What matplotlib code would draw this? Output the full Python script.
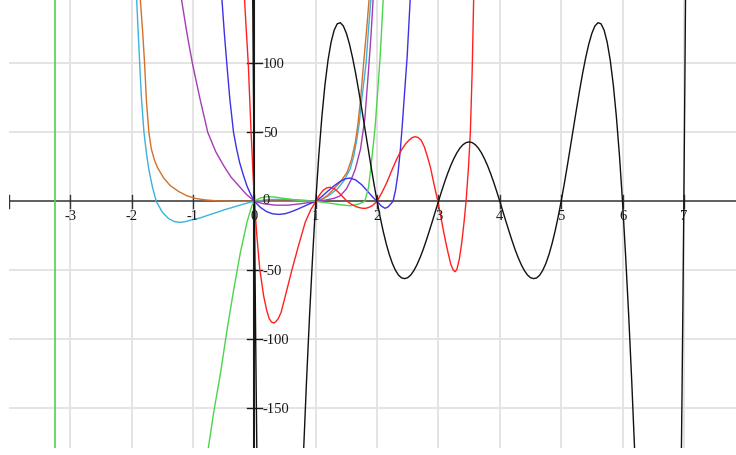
"""Polynomial curves on a Desmos-style grid."""

import matplotlib
matplotlib.use("Agg")
from matplotlib import pyplot as plt

# Points (x, y in graph units)
black_x = [-0.03, -0.02, -0.01, 0.0, 0.01, 0.02, 0.03, 0.04, 0.05, 0.8, 0.85, 0.9,
           0.95, 1.0, 1.05, 1.1, 1.15, 1.2, 1.25, 1.3, 1.35, 1.4, 1.45, 1.5, 1.55,
           1.6, 1.65, 1.7, 1.75, 1.8, 1.85, 1.9, 1.95, 2.0, 2.05, 2.1, 2.15, 2.2,
           2.25, 2.3, 2.35, 2.4, 2.45, 2.5, 2.55, 2.6, 2.65, 2.7, 2.75, 2.8, 2.85,
           2.9, 2.95, 3.0, 3.05, 3.1, 3.15, 3.2, 3.25, 3.3, 3.35, 3.4, 3.45, 3.5,
           3.55, 3.6, 3.65, 3.7, 3.75, 3.8, 3.85, 3.9, 3.95, 4.0, 4.05, 4.1, 4.15,
           4.2, 4.25, 4.3, 4.35, 4.4, 4.45, 4.5, 4.55, 4.6, 4.65, 4.7, 4.75, 4.8,
           4.85, 4.9, 4.95, 5.0, 5.05, 5.1, 5.15, 5.2, 5.25, 5.3, 5.35, 5.4, 5.45,
           5.5, 5.55, 5.6, 5.65, 5.7, 5.75, 5.8, 5.85, 5.9, 5.95, 6.0, 6.05, 6.1,
           6.15, 6.2, 6.95, 6.96, 6.97, 6.98, 6.99, 7.0, 7.01, 7.02, 7.03]
black_y = [163, 106, 52, 0, -49, -96, -140, -181, -221, -183, -130, -82, -39,
           0, 33.4, 61.5, 84.5, 102.4, 115.5, 124.2, 128.8, 129.6, 127.2, 121.8,
           114.0, 104.2, 92.9, 80.3, 66.9, 53.1, 39.3, 25.6, 12.4, 0, -11.5, -21.9,
           -31.0, -38.8, -45.2, -50.1, -53.6, -55.6, -56.1, -55.4, -53.4, -50.2,
           -46.0, -40.9, -35.1, -28.6, -21.7, -14.6, -7.3, 0, 7.1, 13.9, 20.2,
           25.9, 30.9, 35.2, 38.6, 41.1, 42.6, 43.1, 42.6, 41.1, 38.6, 35.2, 30.9,
           25.9, 20.2, 13.9, 7.1, 0, -7.3, -14.6, -21.7, -28.6, -35.1, -40.9,
           -46.0, -50.2, -53.4, -55.4, -56.1, -55.6, -53.6, -50.1, -45.2, -38.8,
           -31.0, -21.9, -11.5, 0, 12.4, 25.6, 39.3, 53.1, 66.9, 80.3, 92.9,
           104.2, 114.0, 121.8, 127.2, 129.6, 128.8, 124.2, 115.5, 102.4, 84.5,
           61.5, 33.4, 0, -39, -82, -130, -183, -221, -181, -140, -96, -49, 0, 52,
           106, 163]

red_x = [-0.19, -0.14, -0.10, -0.054, -0.025, 0.0, 0.04, 0.087, 0.15, 0.2, 0.24,
         0.28, 0.315, 0.35, 0.39, 0.435, 0.505, 0.61, 0.72, 0.83, 0.92, 1.0, 1.06,
         1.12, 1.18, 1.24, 1.30, 1.36, 1.43, 1.51, 1.59, 1.66, 1.72, 1.77, 1.81,
         1.86, 1.92, 2.0, 2.08, 2.16, 2.24, 2.32, 2.40, 2.47, 2.52, 2.57, 2.62,
         2.67, 2.72, 2.77, 2.82, 2.87, 2.92, 2.99, 3.04, 3.08, 3.12, 3.16, 3.20,
         3.24, 3.27, 3.30, 3.34, 3.38, 3.42, 3.45, 3.49, 3.52, 3.55, 3.58]
red_y = [170, 130, 100, 50, 23, 0, -25, -49, -68.5, -79, -85, -87.6, -88.3, -87.3,
         -85, -80.6, -68.5, -50, -32, -15, -6, 0, 4.5, 8, 9.8, 10.2, 9.2, 7, 3.8,
         0, -2.4, -3.9, -4.7, -5.1, -5.1, -4.5, -3.2, 0, 6.5, 13.8, 22.5, 30.7,
         37.5, 42, 44.3, 46.2, 46.9, 46.3, 44.2, 39.5, 32.5, 24.5, 14, 0, -11.5,
         -21, -30, -38, -45.5, -49.8, -51.1, -49.5, -42, -30, -14, 0, 25, 50, 95,
         160]

blue_x = [-0.56, -0.53, -0.49, -0.45, -0.40, -0.34, -0.29, -0.24, -0.18, -0.12,
          -0.06, 0.0, 0.1, 0.2, 0.3, 0.4, 0.5, 0.6, 0.7, 0.8, 0.9, 1.0, 1.1, 1.2,
          1.3, 1.4, 1.48, 1.56, 1.65, 1.75, 1.85, 1.93, 2.0, 2.07, 2.13, 2.18,
          2.22, 2.26, 2.30, 2.34, 2.38, 2.41, 2.44, 2.49, 2.54, 2.56]
blue_y = [170, 147, 122, 100, 74, 50, 38, 28, 19, 11, 5, 0, -4.5, -7.5, -9.1,
          -9.5, -9.0, -7.6, -5.8, -3.8, -1.8, 0, 3.5, 7.5, 11.3, 14.5, 16.3, 16.9,
          15.5, 12, 7, 3, 0, -3.5, -5.1, -4, -2, 0, 8, 20, 38, 55, 74, 105, 147,
          165]

purple_x = [-1.25, -1.19, -1.10, -1.01, -0.89, -0.76, -0.63, -0.5, -0.38, -0.256,
            -0.13, 0.0, 0.15, 0.35, 0.55, 0.75, 0.9, 1.0, 1.15, 1.3, 1.4, 1.5,
            1.58, 1.645, 1.73, 1.80, 1.86, 1.90, 1.94, 1.96]
purple_y = [175, 147, 122, 100, 75, 50, 36, 25.8, 17.5, 11.3, 5, 0, -1.8, -2.8,
            -2.8, -1.8, -0.8, 0, 0.8, 2.2, 4, 9, 16, 23.4, 38, 60, 95, 120, 150,
            170]

orange_x = [-1.90, -1.86, -1.82, -1.79, -1.76, -1.72, -1.68, -1.63, -1.58, -1.48,
            -1.37, -1.23, -1.10, -0.95, -0.8, -0.6, -0.3, 0.0, 0.5, 1.0, 1.1, 1.2,
            1.29, 1.4, 1.51, 1.58, 1.645, 1.69, 1.73, 1.78, 1.83, 1.87, 1.89]
orange_y = [175, 147, 122, 100, 73, 50, 38, 30, 24.5, 17, 11.3, 7, 4, 2, 1, 0.3,
            0.05, 0, 0, 0, 1.5, 4.5, 8.9, 14, 21, 30, 42.8, 57, 74, 100, 125, 147,
            165]

cyan_x = [-1.95, -1.92, -1.87, -1.84, -1.80, -1.76, -1.72, -1.66, -1.6, -1.5,
          -1.4, -1.3, -1.2, -1.1, -1.0, -0.88, -0.75, -0.61, -0.48, -0.34, -0.2,
          -0.08, 0.0, 0.2, 0.5, 0.8, 1.0, 1.1, 1.2, 1.35, 1.46, 1.56, 1.62, 1.67,
          1.71, 1.75, 1.82, 1.86, 1.90, 1.92]
cyan_y = [170, 147, 100, 74, 50, 35, 23, 10, 0, -8, -12.5, -14.8, -15.3, -14.5,
          -13.2, -12, -10, -8, -6, -4.2, -2.3, -0.8, 0, 1.2, 1.5, 0.8, 0, 1.5, 3.8,
          8.9, 15, 23.4, 33, 45, 57, 74, 100, 125, 147, 165]

green_x = [-0.79, -0.744, -0.663, -0.55, -0.445, -0.337, -0.228, -0.12, -0.04, 0.0,
           0.1, 0.21, 0.35, 0.5, 0.7, 0.85, 1.0, 1.2, 1.4, 1.56, 1.7, 1.8, 1.86,
           1.9, 1.94, 1.97, 2.0, 2.05, 2.1, 2.12]
green_y = [-190, -177, -153, -124, -93, -64, -37, -15, -3, 0, 2.5, 3.4, 3.0, 2.0,
           0.8, 0.2, 0, -1.2, -2.5, -3.2, -2, 0, 10, 25, 42, 55, 74, 105, 147, 165]
green_wall_x = -3.25  # nearly vertical branch on the far left

x_ticks = [-4, -3, -2, -1, 0, 1, 2, 3, 4, 5, 6, 7]
y_ticks = [-150, -100, -50, 50, 100]

plt.rcParams["font.family"] = ["Liberation Serif", "DejaVu Serif"]

fig = plt.figure(figsize=(7.36, 4.56), dpi=100)
ax = fig.add_axes([9 / 736, 7 / 456, 727 / 736, 449 / 456])
ax.set_xlim(-4, 7.85)
ax.set_ylim(-179, 146.8)
ax.axis("off")

# grid
for gx in x_ticks[1:]:
    ax.axvline(gx, color="#e2e2e2", lw=1.3, zorder=0)
for gy in y_ticks:
    ax.axhline(gy, color="#e2e2e2", lw=1.3, zorder=0)

# axes and ticks
ax.axhline(0, color="#333333", lw=1.1, zorder=1)
ax.axvline(0, color="#1a1a1a", lw=1.5, zorder=1)
for tx in x_ticks:
    ax.plot([tx, tx], [-4.5, 4.5], color="#333333", lw=1.0, zorder=1)
    if tx != -4:
        ax.text(tx, -10.5, str(tx), ha="center", va="center",
                fontsize=10.5, color="#1a1a1a", zorder=5)
for ty in y_ticks:
    ax.plot([-0.12, 0.12], [ty, ty], color="#1a1a1a", lw=1.0, zorder=1)
    ax.text(0.14, ty, str(ty), ha="left", va="center", fontsize=10.5,
            color="#1a1a1a", zorder=5)
ax.text(0.14, 1.0, "0", ha="left", va="center", fontsize=10.5, color="#1a1a1a",
        zorder=5)

# curves
lw = 1.0
ax.axvline(green_wall_x, color="#4cd44c", lw=1.2, zorder=2)
ax.plot(cyan_x, cyan_y, color="#3cb2dc", lw=lw, zorder=2)
ax.plot(orange_x, orange_y, color="#d2702c", lw=lw, zorder=2)
ax.plot(purple_x, purple_y, color="#a43cb4", lw=lw, zorder=2)
ax.plot(blue_x, blue_y, color="#3f30e6", lw=lw, zorder=2)
ax.plot(green_x, green_y, color="#4cd44c", lw=lw, zorder=2)
ax.plot(red_x, red_y, color="#ff2020", lw=lw, zorder=3)
ax.plot(black_x, black_y, color="#111111", lw=lw, zorder=3)

fig.savefig("out.png", dpi=100)
